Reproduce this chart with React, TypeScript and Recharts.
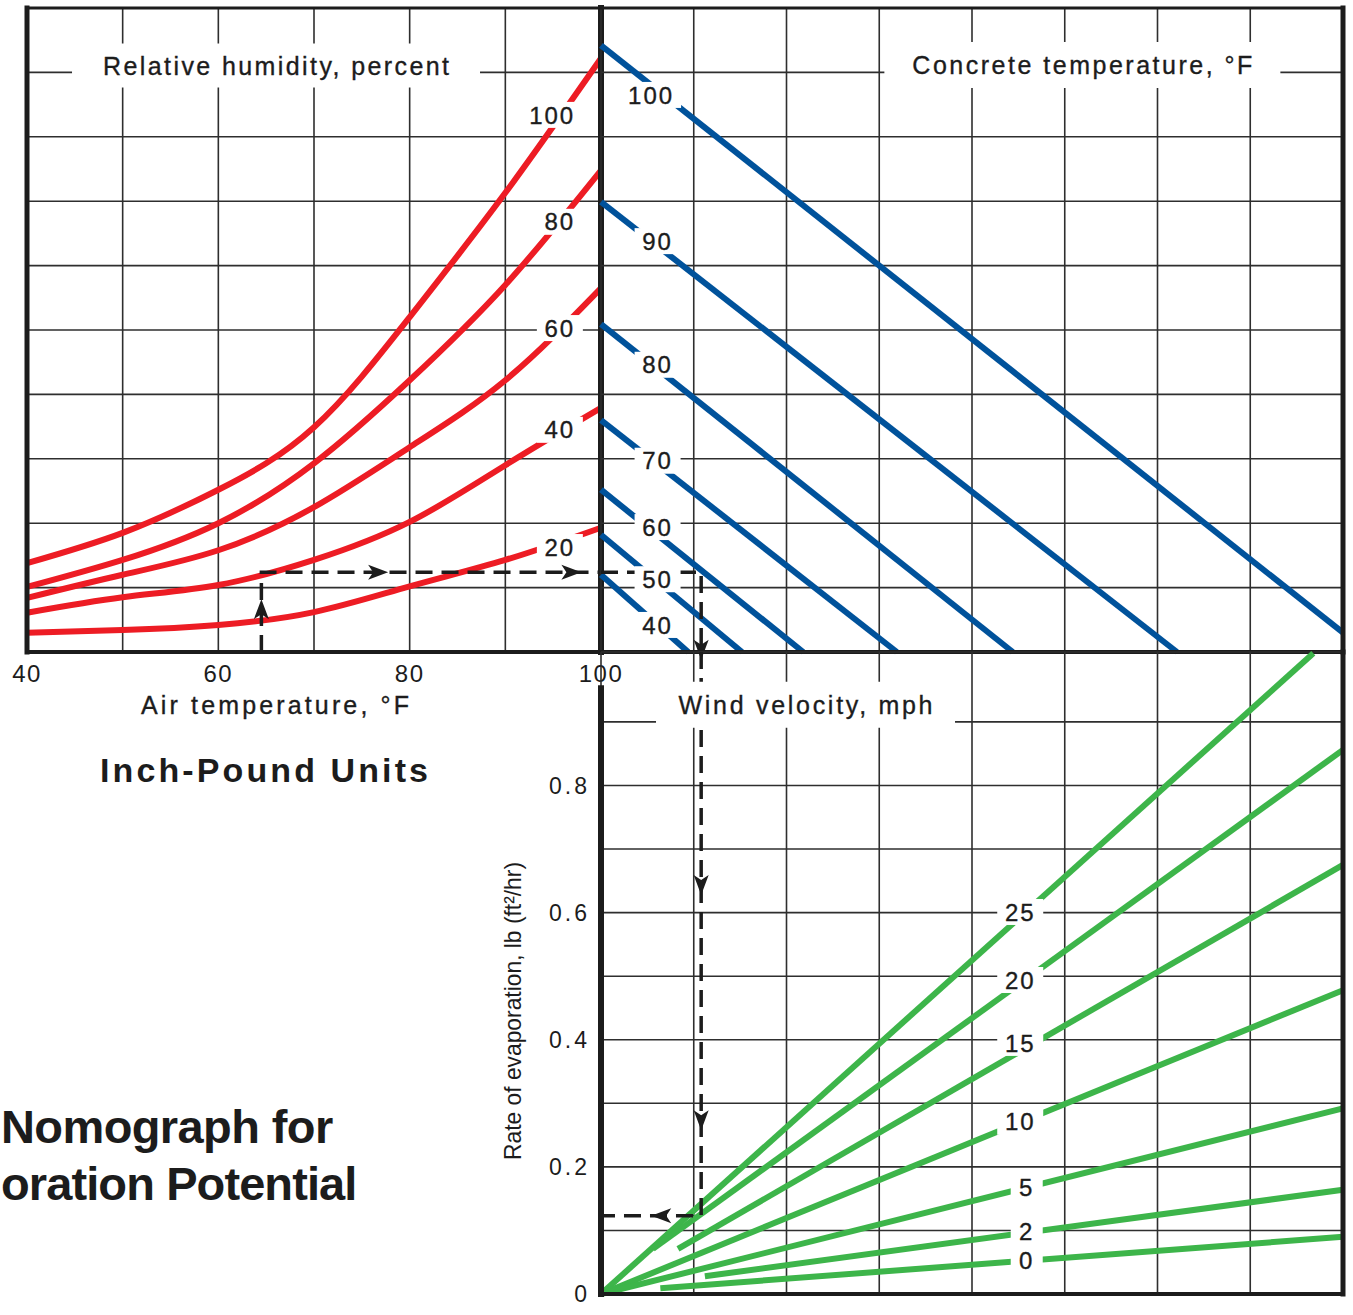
import React from "react";
import {
  LineChart,
  Line,
  XAxis,
  YAxis,
  CartesianGrid,
  ReferenceLine,
  ReferenceDot,
} from "recharts";

const FONT = '"Liberation Sans", Arial, Helvetica, sans-serif';
const INK = "#1c1c1c";
const GRID = "#2e2e2e";
const RED = "#ed1c24";
const BLUE = "#00529b";
const GREEN = "#3db54a";

// upper left: relative humidity curves, y read in grid rows (0 = axis, 10 = top edge)
const airTemps = [40, 50, 60, 70, 80, 90, 100];
const rhLevels = ["100", "80", "60", "40", "20"];
const rh100 = [1.38, 1.85, 2.52, 3.49, 5.2, 7.13, 9.22];
const rh80 = [1.01, 1.43, 2.0, 2.93, 4.22, 5.7, 7.48];
const rh60 = [0.84, 1.2, 1.58, 2.25, 3.18, 4.22, 5.65];
const rh40 = [0.61, 0.85, 1.04, 1.43, 2.02, 2.9, 3.79];
const rh20 = [0.3, 0.34, 0.42, 0.62, 1.02, 1.43, 1.93];
const rhCurves = [rh100, rh80, rh60, rh40, rh20];

// upper right: concrete temperature lines, x in grid columns (0-8)
const concreteTemps = ["100", "90", "80", "70", "60", "50", "40"];
const concreteStartY = [9.42, 6.99, 5.09, 3.6, 2.52, 1.82, 1.2];
const concreteEndX = [8, 6.21, 4.44, 3.19, 2.18, 1.52, 0.94];
const concreteEndY = [0.3, 0, 0, 0, 0, 0, 0];

// lower right: wind velocity lines, rate of evaporation lb/ft2/hr
const windSpeeds = ["25", "20", "15", "10", "5", "2", "0"];
const windStartX = [0, 0.56, 0.83, 0, 0, 1.12, 0.64];
const windStartRate = [0, 0.071, 0.071, 0, 0, 0.028, 0.009];
const windEndX = [7.68, 8, 8, 8, 8, 8, 8];
const windEndRate = [1.008, 0.856, 0.675, 0.478, 0.292, 0.164, 0.09];

// worked example (dashed path)
const exampleAirTemp = 64.5;
const exampleVapour = 1.24;
const exampleWindX = 1.08;
const exampleRate = 0.123;

// ticks
const airTicks = [40, 50, 60, 70, 80, 90, 100];
const rowTicks = [1, 2, 3, 4, 5, 6, 7, 8, 9];
const colTicks = [1, 2, 3, 4, 5, 6, 7];
const rateTicks = [0, 0.1, 0.2, 0.3, 0.4, 0.5, 0.6, 0.7, 0.8, 0.9];
const rateLabels = [0, 0.2, 0.4, 0.6, 0.8];

// where the curve labels sit (in each panel's own units)
const rhLabelAt = [[94.9, 8.34], [95.7, 6.68], [95.7, 5.03], [95.7, 3.45], [95.7, 1.63]];
const concreteLabelAt = [[0.54, 8.65], [0.61, 6.38], [0.61, 4.46], [0.61, 2.97], [0.61, 1.94], [0.61, 1.13], [0.61, 0.42]];
const windLabelAt = [[4.52, 0.601], [4.52, 0.494], [4.52, 0.395], [4.52, 0.271], [4.59, 0.168], [4.59, 0.098], [4.59, 0.053]];

const boxLabel =
  (text: string, w: number, h: number, textLen?: number) => (p: any) => (
    <g>
      <rect x={p.cx - w / 2} y={p.cy - h / 2} width={w} height={h} fill="#fff" />
      <text
        x={p.cx}
        y={p.cy + (textLen ? 25 : 24) * 0.36}
        textAnchor="middle"
        fontFamily={FONT}
        fontSize={textLen ? 25 : 24}
        fill={INK}
        stroke={INK}
        strokeWidth={0.35}
        textLength={textLen}
        style={textLen ? undefined : { letterSpacing: 2 }}
      >
        {text}
      </text>
    </g>
  );

const numBox = (t: string) => boxLabel(t, 14 * t.length + 18, 26);

const arrowHead = (deg: number) => (p: any) => (
  <path
    transform={`translate(${p.cx},${p.cy}) rotate(${deg})`}
    d="M11 0 L-9 -7.5 L-4 0 L-9 7.5 Z"
    fill={INK}
  />
);

const lineProps = {
  dataKey: "y",
  dot: false,
  activeDot: false,
  isAnimationActive: false,
} as const;

const dashProps = {
  ...lineProps,
  type: "linear" as const,
  stroke: INK,
  strokeWidth: 3.5,
  strokeDasharray: "17 9",
  zIndex: 450,
};

const border = (w: number) => ({ stroke: INK, strokeWidth: w, strokeLinecap: "square" as const, zIndex: 900 });

function HumidityPanel() {
  return (
    <LineChart width={640} height={730} margin={{ top: 8, right: 39, bottom: 0, left: 27 }}>
      <CartesianGrid stroke={GRID} strokeWidth={1.6} />
      <XAxis
        type="number"
        dataKey="x"
        domain={[40, 100]}
        ticks={airTicks}
        interval={0}
        height={78}
        tickLine={false}
        axisLine={false}
        tickSize={0}
        tickMargin={13}
        tickFormatter={(v: number) => (v % 20 === 0 ? String(v) : "")}
        tick={{ fontSize: 24, fill: INK, fontFamily: FONT, letterSpacing: 1.5 }}
      />
      <YAxis type="number" domain={[0, 10]} ticks={rowTicks} hide />
      {rhCurves.map((c, i) => (
        <Line
          key={rhLevels[i]}
          {...lineProps}
          data={airTemps.map((t, j) => ({ x: t, y: c[j] }))}
          type="natural"
          stroke={RED}
          strokeWidth={6}
        />
      ))}
      <Line
        {...dashProps}
        data={[
          { x: exampleAirTemp, y: 0 },
          { x: exampleAirTemp, y: exampleVapour },
          { x: 100, y: exampleVapour },
        ]}
      />
      <ReferenceDot x={exampleAirTemp} y={0.65} shape={arrowHead(-90)} zIndex={460} />
      <ReferenceDot x={76.6} y={exampleVapour} shape={arrowHead(0)} zIndex={460} />
      <ReferenceDot x={96.8} y={exampleVapour} shape={arrowHead(0)} zIndex={460} />
      <ReferenceLine x={40} {...border(5)} />
      <ReferenceLine y={10} {...border(3)} />
      <ReferenceLine y={0} {...border(4)} />
      <ReferenceLine x={100} {...border(6)} />
      {rhLevels.map((t, i) => (
        <ReferenceDot key={t} x={rhLabelAt[i][0]} y={rhLabelAt[i][1]} shape={numBox(t)} zIndex={1000} />
      ))}
      <ReferenceDot x={66.03} y={9.107} shape={boxLabel("Relative humidity, percent", 408, 44, 346)} zIndex={1000} />
    </LineChart>
  );
}

function ConcretePanel() {
  return (
    <LineChart width={792} height={660} margin={{ top: 8, right: 10, bottom: 8, left: 40 }}>
      <CartesianGrid stroke={GRID} strokeWidth={1.6} />
      <XAxis type="number" dataKey="x" domain={[0, 8]} ticks={colTicks} hide />
      <YAxis type="number" domain={[0, 10]} ticks={rowTicks} hide />
      {concreteTemps.map((t, i) => (
        <Line
          key={t}
          {...lineProps}
          data={[
            { x: 0, y: concreteStartY[i] },
            { x: concreteEndX[i], y: concreteEndY[i] },
          ]}
          type="linear"
          stroke={BLUE}
          strokeWidth={6}
        />
      ))}
      <Line
        {...dashProps}
        data={[
          { x: 0, y: exampleVapour },
          { x: exampleWindX, y: exampleVapour },
          { x: exampleWindX, y: 0 },
        ]}
      />
      <ReferenceDot x={exampleWindX} y={0.05} shape={arrowHead(90)} zIndex={460} />
      <ReferenceLine y={10} {...border(3)} />
      <ReferenceLine y={0} {...border(4)} />
      <ReferenceLine x={8} {...border(5)} />
      {concreteTemps.map((t, i) => (
        <ReferenceDot key={t} x={concreteLabelAt[i][0]} y={concreteLabelAt[i][1]} shape={numBox(t)} zIndex={1000} />
      ))}
      <ReferenceDot x={5.19} y={9.115} shape={boxLabel("Concrete temperature, \u00b0F", 396, 46, 340)} zIndex={1000} />
    </LineChart>
  );
}

function WindPanel() {
  return (
    <LineChart width={873} height={675} margin={{ top: 12, right: 10, bottom: 21, left: 0 }}>
      <CartesianGrid stroke={GRID} strokeWidth={1.6} />
      <XAxis type="number" dataKey="x" domain={[0, 8]} ticks={colTicks} hide />
      <YAxis
        type="number"
        domain={[0, 1.01]}
        ticks={rateTicks}
        interval={0}
        width={121}
        tickLine={false}
        axisLine={false}
        tickSize={0}
        tickMargin={11}
        tickFormatter={(v: number) => (rateLabels.includes(v) ? String(v) : "")}
        tick={{ fontSize: 23, fill: INK, fontFamily: FONT, letterSpacing: 3 }}
      />
      {windSpeeds.map((w, i) => (
        <Line
          key={w}
          {...lineProps}
          data={[
            { x: windStartX[i], y: windStartRate[i] },
            { x: windEndX[i], y: windEndRate[i] },
          ]}
          type="linear"
          stroke={GREEN}
          strokeWidth={6}
        />
      ))}
      <Line
        {...dashProps}
        data={[
          { x: exampleWindX, y: 1.01 },
          { x: exampleWindX, y: exampleRate },
          { x: 0, y: exampleRate },
        ]}
      />
      <ReferenceDot x={exampleWindX} y={0.645} shape={arrowHead(90)} zIndex={460} />
      <ReferenceDot x={exampleWindX} y={0.275} shape={arrowHead(90)} zIndex={460} />
      <ReferenceDot x={0.66} y={exampleRate} shape={arrowHead(180)} zIndex={460} />
      <ReferenceLine segment={[{ x: 0, y: 0 }, { x: 0, y: 0.953 }]} {...border(6)} />
      <ReferenceLine x={8} {...border(5)} />
      <ReferenceLine y={0} {...border(4)} />
      {windSpeeds.map((w, i) => (
        <ReferenceDot key={w} x={windLabelAt[i][0]} y={windLabelAt[i][1]} shape={numBox(w)} zIndex={1000} />
      ))}
      <ReferenceDot x={2.205} y={0.927} shape={boxLabel("Wind velocity, mph", 299, 46, 254)} zIndex={1000} />
    </LineChart>
  );
}

export default function App() {
  return (
    <div
      style={{
        position: "absolute",
        left: 0,
        top: 0,
        width: 1353,
        height: 1315,
        overflow: "hidden",
        background: "#fff",
        fontFamily: FONT,
      }}
    >
      <svg width={1353} height={1315} style={{ position: "absolute", left: 0, top: 0 }}>
        <g fontFamily={FONT} fill={INK}>
          <text x={275} y={714} fontSize={25} textAnchor="middle" textLength={268} stroke={INK} strokeWidth={0.35}>
            Air temperature, °F
          </text>
          <text x={264} y={782} fontSize={34} fontWeight="bold" textAnchor="middle" textLength={328}>
            Inch-Pound Units
          </text>
          <text x={1} y={1143} fontSize={47} fontWeight="bold" style={{ letterSpacing: -0.6 }}>
            Nomograph for
          </text>
          <text x={1} y={1200} fontSize={47} fontWeight="bold" style={{ letterSpacing: -0.9 }}>
            oration Potential
          </text>
          <text
            transform="translate(521,1011) rotate(-90)"
            fontSize={24}
            textAnchor="middle"
            textLength={298}
            lengthAdjust="spacingAndGlyphs"
          >
            Rate of evaporation, lb (ft²/hr)
          </text>
        </g>
      </svg>
      <div style={{ position: "absolute", left: 0, top: 0 }}>
        <HumidityPanel />
      </div>
      <div style={{ position: "absolute", left: 561, top: 0 }}>
        <ConcretePanel />
      </div>
      <div style={{ position: "absolute", left: 480, top: 640 }}>
        <WindPanel />
      </div>
    </div>
  );
}
